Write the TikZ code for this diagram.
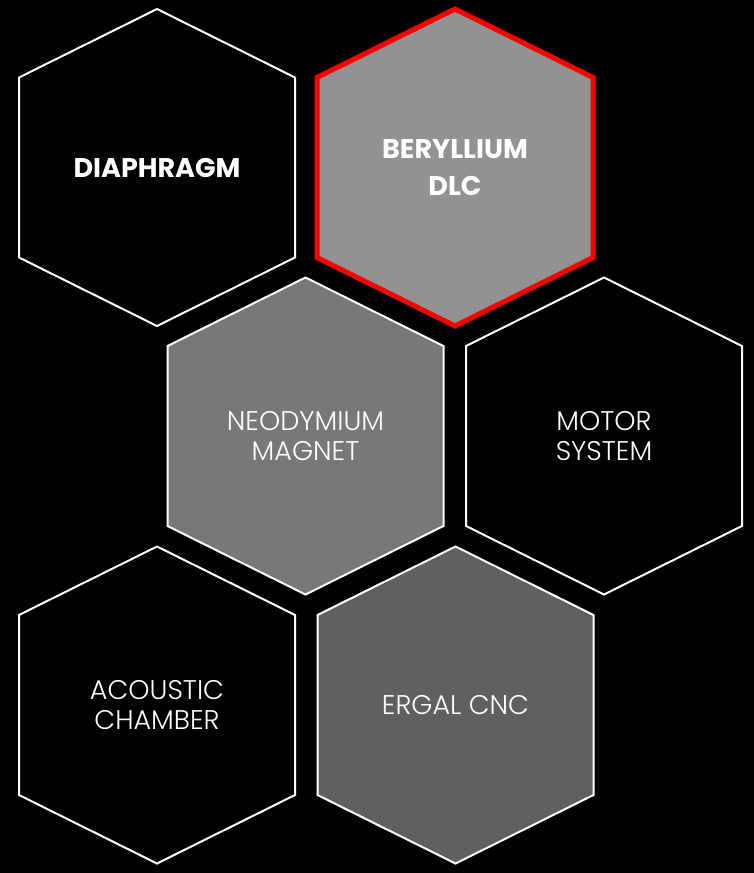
\documentclass[tikz,border=0pt]{standalone}
\usepackage{fontspec}
\setmainfont{Poppins}
\newfontfamily\thinfont{Poppins Light}
\definecolor{cgrayA}{RGB}{146,146,146}
\definecolor{cgrayB}{RGB}{120,120,120}
\definecolor{cgrayC}{RGB}{96,96,96}
\definecolor{credE}{RGB}{255,0,0}
% hexagon outline, relative to its centre
\newcommand\hexoutline{(0,-158.5) -- (138,-90) -- (138,90) -- (0,158.5) --
  (-138,90) -- (-138,-90) -- cycle}

\begin{document}
\begin{tikzpicture}[x=1pt, y=-1pt, inner sep=0pt, outer sep=0pt,
  hexline/.style={draw=white, line width=2pt, line join=miter, fill=black},
  boldlabel/.style={text=white, align=center, font=\bfseries\fontsize{27}{37}\selectfont},
  thinlabel/.style={text=white, align=center, font=\thinfont\fontsize{27}{30}\selectfont}]
  \path[fill=black] (0,0) rectangle (754,873);
  \useasboundingbox (0,0) rectangle (754,873);
  % top row
  \path[hexline, shift={(157,167.5)}] \hexoutline;
  \node[boldlabel] (diaphragm) at (157,167.5) {DIAPHRAGM};
  \path[hexline, shift={(455,167.5)}, fill=cgrayA, draw=credE, line width=5pt] \hexoutline;
  \node[boldlabel] (beryllium) at (455,167.5) {BERYLLIUM\\DLC};
  % middle row
  \path[hexline, shift={(305.5,436)}, fill=cgrayB] \hexoutline;
  \node[thinlabel] (magnet) at (305.5,436) {NEODYMIUM\\MAGNET};
  \path[hexline, shift={(604,436)}] \hexoutline;
  \node[thinlabel] (motor) at (604,436) {MOTOR\\SYSTEM};
  % bottom row
  \path[hexline, shift={(157,705)}] \hexoutline;
  \node[thinlabel] (chamber) at (157,705) {ACOUSTIC\\CHAMBER};
  \path[hexline, shift={(455.5,705)}, fill=cgrayC] \hexoutline;
  \node[thinlabel] (ergal) at (455.5,705) {ERGAL CNC};
\end{tikzpicture}
\end{document}
